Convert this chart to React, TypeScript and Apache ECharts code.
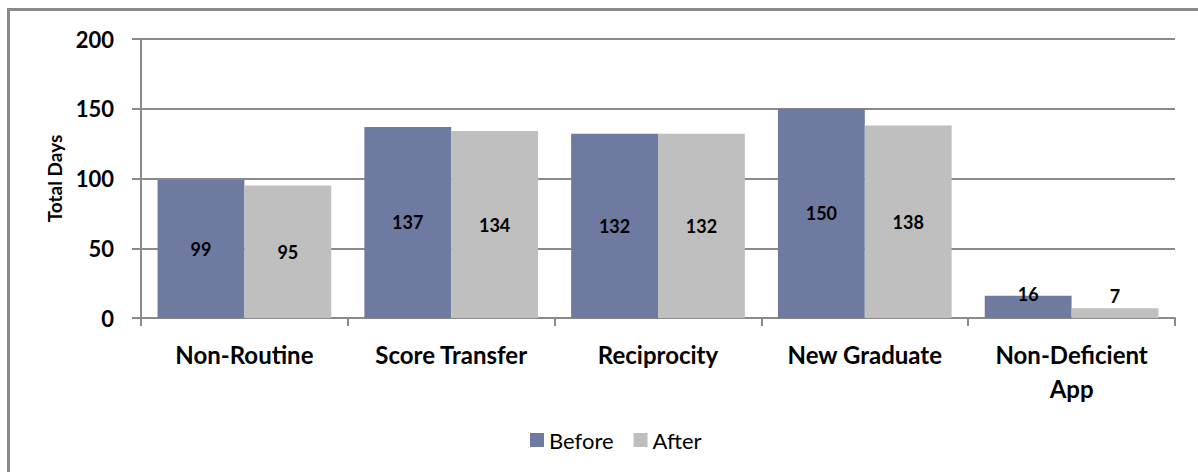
import React, { useEffect, useRef } from "react";
import * as echarts from "echarts";

const categories = ["Non-Routine", "Score Transfer", "Reciprocity", "New Graduate", "Non-Deficient App"];
const beforeValues = [99, 137, 132, 150, 16];
const afterValues = [95, 134, 132, 138, 7];
const yTicks = [0, 50, 100, 150, 200];

const FONT = "Lato, 'Open Sans', sans-serif";

export default function App() {
  const ref = useRef<HTMLDivElement>(null);
  useEffect(() => {
    if (!ref.current) return;
    const chart = echarts.init(ref.current, undefined, { renderer: "svg" });
    const mkData = (vals: number[]) =>
      vals.map((v) =>
        v < 30
          ? { value: v, label: { position: "top", distance: 0, offset: [0, v > 10 ? 7 : -3] } }
          : { value: v }
      );
    chart.setOption({
      animation: false,
      textStyle: { fontFamily: FONT },
      graphic: [
        {
          type: "rect",
          shape: { x: 8.5, y: 9.5, width: 1300, height: 600 },
          style: { fill: "none", stroke: "#8a8a8a", lineWidth: 3 },
          silent: true,
        },
      ],
      grid: { left: 141, right: 23, top: 39, bottom: 154, containLabel: false },
      legend: {
        data: ["Before", "After"],
        left: 525,
        top: 424,
        icon: "rect",
        itemWidth: 14,
        itemHeight: 14,
        itemGap: 20,
        textStyle: { fontSize: 22, color: "#000", fontFamily: FONT },
      },
      xAxis: {
        type: "category",
        data: categories,
        axisLine: { lineStyle: { color: "#8a8a8a", width: 2 } },
        axisTick: { show: true, length: 8, lineStyle: { color: "#8a8a8a", width: 2 } },
        axisLabel: {
          color: "#000",
          fontWeight: "bold",
          fontSize: 24,
          fontFamily: FONT,
          margin: 19,
          lineHeight: 34,
          interval: 0,
          formatter: (s: string) => s.replace("Non-Deficient ", "Non-Deficient\n"),
        },
      },
      yAxis: {
        type: "value",
        min: yTicks[0],
        max: yTicks[yTicks.length - 1],
        interval: 50,
        name: "Total Days",
        nameLocation: "middle",
        nameGap: 77,
        nameRotate: 90,
        nameTextStyle: { fontWeight: "bold", fontSize: 19, color: "#000", fontFamily: FONT },
        axisLine: { show: true, lineStyle: { color: "#8a8a8a", width: 2 } },
        axisTick: { show: true, length: 9, lineStyle: { color: "#8a8a8a", width: 2 } },
        splitLine: { lineStyle: { color: "#8a8a8a", width: 2 } },
        axisLabel: {
          color: "#000",
          fontWeight: "bold",
          fontSize: 22,
          fontFamily: FONT,
          margin: 27,
        },
      },
      series: [
        {
          name: "Before",
          type: "bar",
          data: mkData(beforeValues),
          barGap: "0%",
          barCategoryGap: "16%",
          itemStyle: { color: "#6f7aa1" },
          label: { show: true, position: "inside", color: "#000", fontWeight: "bold", fontSize: 18, fontFamily: FONT },
        },
        {
          name: "After",
          type: "bar",
          data: mkData(afterValues),
          barGap: "0%",
          barCategoryGap: "16%",
          itemStyle: { color: "#bfbfbf" },
          label: { show: true, position: "inside", color: "#000", fontWeight: "bold", fontSize: 18, fontFamily: FONT },
        },
      ],
    });
    return () => chart.dispose();
  }, []);
  return (
    <div
      ref={ref}
      style={{ position: "fixed", left: 0, top: 0, width: 1198, height: 472, background: "#fff" }}
    />
  );
}
